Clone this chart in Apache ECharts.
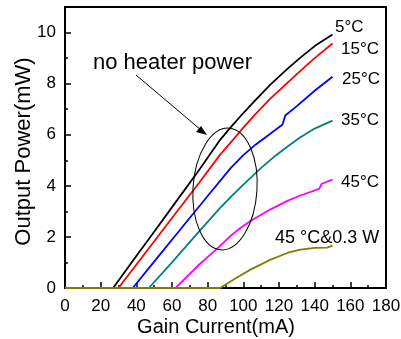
<!DOCTYPE html>
<html>
<head>
<meta charset="utf-8">
<script src="https://cdn.jsdelivr.net/npm/echarts@6/dist/echarts.min.js"></script>
<style>
  html, body { margin: 0; padding: 0; background: #fff; }
  #chart { width: 401px; height: 339px; }
</style>
</head>
<body>
<div id="chart"></div>
<script>
// 各温度下的 L-I 曲线
const current5 = [0, 27, 40, 50, 63, 75, 87, 93, 100, 106, 115, 125, 132, 140, 150]
const power5 = [0, 0, 1.25, 2.2, 3.45, 4.6, 5.8, 6.3, 6.85, 7.3, 7.95, 8.6, 9.02, 9.47, 9.92]

const current15 = [0, 30, 45, 60, 75, 87, 93, 100, 106, 115, 125, 132, 140, 150]
const power15 = [0, 0, 1.37, 2.74, 4.1, 5.22, 5.7, 6.28, 6.75, 7.4, 8.05, 8.5, 9.0, 9.57]

const current25 = [0, 38, 50, 65, 80, 93, 100, 107, 114, 122, 123.5, 130, 140, 150]
const power25 = [0, 0, 1.03, 2.32, 3.6, 4.7, 5.2, 5.62, 5.98, 6.4, 6.75, 7.12, 7.72, 8.27]

const current35 = [0, 47, 60, 75, 87, 93, 100, 110, 118, 125, 132, 140, 150]
const power35 = [0, 0, 1.0, 2.2, 3.14, 3.57, 4.05, 4.7, 5.18, 5.55, 5.9, 6.24, 6.55]

const current45 = [0, 62, 75, 87, 93, 98, 104, 115, 125, 132, 142.5, 144, 150]
const power45 = [0, 0, 0.9, 1.65, 2.05, 2.33, 2.62, 3.07, 3.42, 3.62, 3.88, 4.08, 4.24]

const currentHeat = [0, 87, 95, 104, 115, 125, 132, 140, 147, 150]
const powerHeat = [0, 0, 0.35, 0.72, 1.1, 1.38, 1.5, 1.57, 1.58, 1.66]

const curveNames = ['5°C', '15°C', '25°C', '35°C', '45°C', '45 °C&0.3 W']
const curveColors = ['#000000', '#ff0000', '#0000ff', '#008080', '#ff00ff', '#808000']

const xTicks = [0, 20, 40, 60, 80, 100, 120, 140, 160, 180]
const yTicks = [0, 2, 4, 6, 8, 10]

const FONT = 'Liberation Sans, Arial, sans-serif'

const zip = (xs, ys) => xs.map((x, i) => [x, ys[i]])
const curves = [
  zip(current5, power5),
  zip(current15, power15),
  zip(current25, power25),
  zip(current35, power35),
  zip(current45, power45),
  zip(currentHeat, powerHeat)
]

// 曲线末端标签位置 [x, y中线, 字号]
const labelPos = [
  [335, 27, 17], [341, 49, 17], [342, 79, 17], [341, 120, 17], [341, 182, 17], [275, 238, 18]
]

const chart = echarts.init(document.getElementById('chart'))

const option = {
  animation: false,
  grid: {
    left: 65, right: 15, top: 7, bottom: 51,
    outerBoundsMode: 'none',
    show: true, borderColor: '#000', borderWidth: 2
  },
  xAxis: {
    type: 'value', min: 0, max: 180, interval: 20,
    axisLine: { lineStyle: { color: '#000', width: 2 } },
    axisTick: { inside: true, length: 6, lineStyle: { color: '#000', width: 1.5 } },
    minorTick: { show: true, splitNumber: 2, length: 3, lineStyle: { color: '#000', width: 1.5 } },
    axisLabel: {
      fontFamily: FONT, fontSize: 17, color: '#000', margin: 10,
      formatter: v => xTicks.includes(v) ? String(v) : ''
    },
    splitLine: { show: false }
  },
  yAxis: {
    type: 'value', min: 0, max: 11, interval: 2,
    axisLine: { show: true, lineStyle: { color: '#000', width: 2 } },
    axisTick: { show: true, inside: true, length: 6, lineStyle: { color: '#000', width: 1.5 } },
    minorTick: { show: true, splitNumber: 2, length: 3, lineStyle: { color: '#000', width: 1.5 } },
    axisLabel: {
      fontFamily: FONT, fontSize: 17, color: '#000', margin: 9,
      formatter: v => yTicks.includes(v) ? String(v) : ''
    },
    splitLine: { show: false }
  },
  series: curves.map((d, i) => ({
    name: curveNames[i],
    type: 'line',
    data: d,
    showSymbol: false,
    smooth: false,
    lineStyle: { color: curveColors[i], width: 1.8, join: 'round' },
    z: 3 + i
  })),
  graphic: [
    ...labelPos.map((p, i) => ({
      type: 'text', x: p[0], y: p[1],
      style: { text: curveNames[i], fontFamily: FONT, fontSize: p[2], fill: '#000', verticalAlign: 'middle' }
    })),
    {
      type: 'text', x: 216, y: 327,
      style: { text: 'Gain Current(mA)', fontFamily: FONT, fontSize: 20, fill: '#000', align: 'center', verticalAlign: 'middle' }
    },
    {
      type: 'text', x: 24, y: 151.5, rotation: Math.PI / 2,
      style: { text: 'Output Power(mW)', fontFamily: FONT, fontSize: 22, fill: '#000', align: 'center', verticalAlign: 'middle' }
    },
    {
      type: 'text', x: 93, y: 62.5,
      style: { text: 'no heater power', fontFamily: FONT, fontSize: 22, fill: '#000', verticalAlign: 'middle' }
    },
    {
      type: 'line',
      shape: { x1: 136, y1: 75, x2: 201, y2: 130 },
      style: { stroke: '#000', lineWidth: 1 }
    },
    {
      type: 'polygon',
      shape: { points: [[207, 135], [196, 132], [201, 126]] },
      style: { fill: '#000' }
    },
    {
      type: 'ellipse',
      shape: { cx: 225, cy: 189, rx: 32, ry: 61 },
      rotation: -0.066,
      originX: 225, originY: 189,
      style: { fill: 'none', stroke: '#000', lineWidth: 1 },
      z: 10
    }
  ]
}

chart.setOption(option)
</script>
</body>
</html>
